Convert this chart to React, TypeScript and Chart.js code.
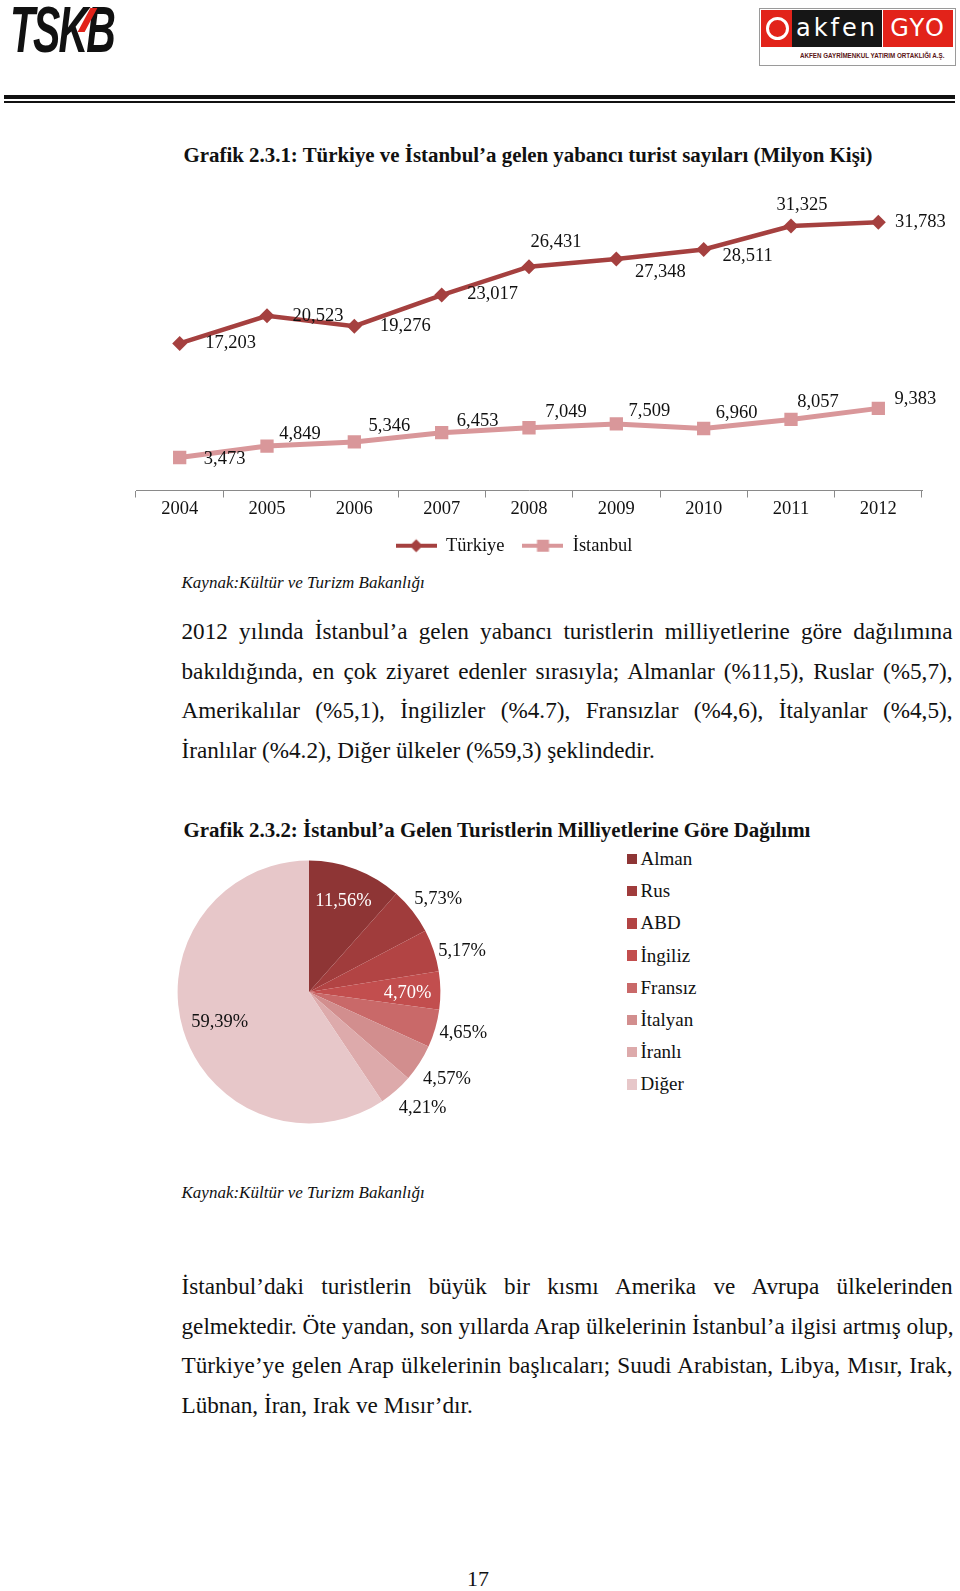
import React, { useEffect, useRef } from "react";
import { Chart, registerables } from "chart.js";

Chart.register(...registerables);

// ---------- DATA ----------
const years = ["2004", "2005", "2006", "2007", "2008", "2009", "2010", "2011", "2012"];
const turkiyeTourists = [17.203, 20.523, 19.276, 23.017, 26.431, 27.348, 28.511, 31.325, 31.783];
const istanbulTourists = [3.473, 4.849, 5.346, 6.453, 7.049, 7.509, 6.96, 8.057, 9.383];
const lineSeriesNames = ["Türkiye", "İstanbul"];
const lineAxisMin = -0.5;
const lineAxisMax = 35;

const nationalities = ["Alman", "Rus", "ABD", "İngiliz", "Fransız", "İtalyan", "İranlı", "Diğer"];
const nationalityShares = [11.56, 5.73, 5.17, 4.7, 4.65, 4.57, 4.21, 59.39];

// ---------- STYLES (kept apart from the data) ----------
const lineColors = ["#A5403F", "#D9979A"];
const pieColors = ["#8E3535", "#A03C3C", "#B24444", "#C24E4E", "#C96969", "#D28E8E", "#DDAAAB", "#E7C7C9"];
// label offsets from each point (px)
const turkiyeLabelShift: [number, number][] = [
  [51, 0], [51, 0], [51, 0], [51, -0.5], [27, -25], [44, 13], [44, 6.5], [11, -21], [42, 0],
];
const istanbulLabelShift: [number, number][] = [
  [45, 1.5], [33, -11.5], [35, -15.5], [36, -11.5], [37, -15.5], [33, -13], [33, -15.5], [27, -17.5], [37, -9.5],
];
// pie label placement: radius factor and angular nudge (degrees)
const pieLabelRadius = [0.74, 1.21, 1.205, 0.75, 1.215, 1.243, 1.235, 0.718];
const pieLabelTurn = [0, 2.4, 3.6, 1.3, -1.4, -0.4, -3, -2];
const pieLabelColor = ["#ffffff", "#111111", "#111111", "#ffffff", "#111111", "#111111", "#111111", "#111111"];

const SERIF = '"Liberation Serif", "Times New Roman", serif';

const fmt3 = (v: number) => v.toFixed(3).replace(".", ",");
const fmtPct = (v: number) => v.toFixed(2).replace(".", ",") + "%";

const paragraph1 = [
  "2012 yılında İstanbul’a gelen yabancı turistlerin milliyetlerine göre dağılımına",
  "bakıldığında, en çok ziyaret edenler sırasıyla; Almanlar (%11,5), Ruslar (%5,7),",
  "Amerikalılar (%5,1), İngilizler (%4.7), Fransızlar (%4,6), İtalyanlar (%4,5),",
  "İranlılar (%4.2), Diğer ülkeler (%59,3) şeklindedir.",
];
const paragraph2 = [
  "İstanbul’daki turistlerin büyük bir kısmı Amerika ve Avrupa ülkelerinden",
  "gelmektedir. Öte yandan, son yıllarda Arap ülkelerinin İstanbul’a ilgisi artmış olup,",
  "Türkiye’ye gelen Arap ülkelerinin başlıcaları; Suudi Arabistan, Libya, Mısır, Irak,",
  "Lübnan, İran, Irak ve Mısır’dır.",
];

function Paragraph({ lines, top, lineH }: { lines: string[]; top: number; lineH: number }) {
  return (
    <div style={{ position: "absolute", left: 181.5, top, width: 771 }}>
      {lines.map((t, i) => (
        <div
          key={i}
          style={{
            height: lineH,
            lineHeight: lineH + "px",
            fontSize: 23.2,
            whiteSpace: "nowrap",
            textAlign: "justify",
            textAlignLast: i === lines.length - 1 ? "left" : "justify",
            color: "#111",
          }}
        >
          {t}
        </div>
      ))}
    </div>
  );
}

export default function App() {
  const lineRef = useRef<HTMLCanvasElement>(null);
  const pieRef = useRef<HTMLCanvasElement>(null);

  useEffect(() => {
    Chart.defaults.font.family = SERIF;
    Chart.defaults.color = "#111";

    const makeIcon = (color: string, shape: "diamond" | "square") => {
      const c = document.createElement("canvas");
      c.width = 41;
      c.height = 18;
      const g = c.getContext("2d")!;
      g.strokeStyle = color;
      g.lineWidth = 4;
      g.beginPath();
      g.moveTo(0, 9);
      g.lineTo(41, 9);
      g.stroke();
      g.fillStyle = color;
      if (shape === "diamond") {
        g.beginPath();
        g.moveTo(20.5, 2.5);
        g.lineTo(27, 9);
        g.lineTo(20.5, 15.5);
        g.lineTo(14, 9);
        g.closePath();
        g.fill();
      } else {
        g.fillRect(14.5, 3, 12, 12);
      }
      return c;
    };
    const icons = [makeIcon(lineColors[0], "diamond"), makeIcon(lineColors[1], "square")];
    const shifts = [turkiyeLabelShift, istanbulLabelShift];

    const lineLabels = {
      id: "lineLabels",
      afterDatasetsDraw(chart: any) {
        const ctx = chart.ctx;
        ctx.save();
        ctx.font = `18.5px ${SERIF}`;
        ctx.fillStyle = "#111";
        ctx.textAlign = "center";
        ctx.textBaseline = "middle";
        chart.data.datasets.forEach((ds: any, di: number) => {
          const meta = chart.getDatasetMeta(di);
          meta.data.forEach((pt: any, i: number) => {
            const s = shifts[di][i];
            ctx.fillText(fmt3(ds.data[i]), pt.x + s[0], pt.y + s[1]);
          });
        });
        ctx.restore();
      },
    };

    const lineChart = new Chart(lineRef.current!, {
      type: "line",
      data: {
        labels: years,
        datasets: [
          {
            label: lineSeriesNames[0],
            data: turkiyeTourists,
            borderColor: lineColors[0],
            backgroundColor: lineColors[0],
            borderWidth: 4.5,
            pointStyle: "rectRot",
            pointRadius: 7.5,
            pointBorderWidth: 0,
            pointBackgroundColor: lineColors[0],
            tension: 0,
          },
          {
            label: lineSeriesNames[1],
            data: istanbulTourists,
            borderColor: lineColors[1],
            backgroundColor: lineColors[1],
            borderWidth: 5,
            pointStyle: "rect",
            pointRadius: 9.4,
            pointBorderWidth: 0,
            pointBackgroundColor: lineColors[1],
            tension: 0,
          },
        ],
      },
      options: {
        responsive: false,
        animation: false,
        events: [],
        layout: { padding: { left: 6, right: 38, top: 15.5, bottom: 0 } },
        scales: {
          x: {
            offset: true,
            grid: {
              offset: true,
              drawOnChartArea: false,
              drawTicks: true,
              tickLength: 7,
              color: "#8a8a8a",
            },
            border: { display: true, color: "#8a8a8a", width: 1 },
            ticks: { font: { size: 18.5, family: SERIF }, color: "#111", padding: 1, maxRotation: 0 },
            afterFit: (s: any) => {
              s.height = 28;
            },
          },
          y: {
            min: lineAxisMin,
            max: lineAxisMax,
            grid: { display: false },
            border: { display: false },
            ticks: { display: false },
            afterFit: (s: any) => {
              s.width = 30;
            },
          },
        },
        plugins: {
          tooltip: { enabled: false },
          legend: {
            position: "bottom",
            labels: {
              usePointStyle: true,
              pointStyleWidth: 41,
              padding: 18,
              font: { size: 18.5, family: SERIF },
              color: "#111",
              generateLabels: (chart: any) => {
                const items = Chart.defaults.plugins.legend.labels.generateLabels(chart);
                items.forEach((it: any) => {
                  it.pointStyle = icons[it.datasetIndex];
                });
                return items;
              },
            },
          },
        },
      },
      plugins: [lineLabels],
    } as any);

    const pieLabels = {
      id: "pieLabels",
      afterDatasetsDraw(chart: any) {
        const ctx = chart.ctx;
        ctx.save();
        ctx.font = `18.5px ${SERIF}`;
        ctx.textAlign = "center";
        ctx.textBaseline = "middle";
        const meta = chart.getDatasetMeta(0);
        meta.data.forEach((arc: any, i: number) => {
          const p = arc.getProps(["x", "y", "startAngle", "endAngle", "outerRadius"], true);
          const mid = (p.startAngle + p.endAngle) / 2 + (pieLabelTurn[i] * Math.PI) / 180;
          const r = p.outerRadius * pieLabelRadius[i];
          ctx.fillStyle = pieLabelColor[i];
          ctx.fillText(fmtPct(chart.data.datasets[0].data[i]), p.x + Math.cos(mid) * r, p.y + Math.sin(mid) * r);
        });
        ctx.restore();
      },
    };

    const pieChart = new Chart(pieRef.current!, {
      type: "pie",
      data: {
        labels: nationalities,
        datasets: [
          {
            data: nationalityShares,
            backgroundColor: pieColors,
            borderWidth: 0,
          },
        ],
      },
      options: {
        responsive: false,
        animation: false,
        events: [],
        layout: { padding: { left: 7.6, top: 10.6, right: 79.6, bottom: 16.6 } },
        plugins: { legend: { display: false }, tooltip: { enabled: false } },
      },
      plugins: [pieLabels],
    } as any);

    return () => {
      lineChart.destroy();
      pieChart.destroy();
    };
  }, []);

  const abs = (s: React.CSSProperties): React.CSSProperties => ({ position: "absolute", ...s });

  return (
    <div
      style={{
        position: "absolute",
        left: 0,
        top: 0,
        width: 960,
        height: 1591,
        overflow: "hidden",
        background: "#fff",
        fontFamily: SERIF,
        color: "#111",
      }}
    >
      {/* TSKB logo */}
      <div
        style={abs({
          left: 10,
          top: 0,
          fontFamily: '"Liberation Sans", Arial, sans-serif',
          fontWeight: 900,
          fontStyle: "italic",
          fontSize: 64,
          lineHeight: "60px",
          letterSpacing: -3,
          transform: "scaleX(0.64)",
          transformOrigin: "left top",
          color: "#111",
          whiteSpace: "nowrap",
        })}
      >
        TSKB
      </div>
      <div style={abs({ left: 84, top: 8, width: 7, height: 24, background: "#E2231A", transform: "skewX(-28deg)" })} />

      {/* Akfen GYO logo */}
      <div style={abs({ left: 759, top: 8, width: 195, height: 56, border: "1px solid #9a9a9a", background: "#fff" })} />
      <div style={abs({ left: 761, top: 10, width: 31, height: 37, background: "#E2231A" })} />
      <div
        style={abs({
          left: 766,
          top: 17,
          width: 17,
          height: 17,
          borderRadius: "50%",
          border: "3px solid #fff",
          background: "#E2231A",
        })}
      />
      <div
        style={abs({
          left: 792,
          top: 10,
          width: 90,
          height: 37,
          background: "#161616",
          color: "#fff",
          fontFamily: '"DejaVu Sans", sans-serif',
          fontSize: 24,
          lineHeight: "36px",
          letterSpacing: 3,
          textAlign: "center",
        })}
      >
        akfen
      </div>
      <div
        style={abs({
          left: 883,
          top: 10,
          width: 70,
          height: 37,
          background: "#E2231A",
          color: "#fff",
          fontFamily: '"DejaVu Sans", sans-serif',
          fontSize: 24,
          lineHeight: "36px",
          letterSpacing: 2,
          textAlign: "center",
        })}
      >
        GYO
      </div>
      <div
        style={abs({
          left: 800,
          top: 51,
          fontFamily: '"Liberation Sans", Arial, sans-serif',
          fontWeight: 700,
          fontSize: 8,
          lineHeight: "10px",
          color: "#5a1515",
          whiteSpace: "nowrap",
          transform: "scaleX(0.78)",
          transformOrigin: "left top",
        })}
      >
        AKFEN GAYRİMENKUL YATIRIM ORTAKLIĞI A.Ş.
      </div>

      {/* header rules */}
      <div style={abs({ left: 4, top: 95, width: 951, height: 3.5, background: "#111" })} />
      <div style={abs({ left: 4, top: 101, width: 951, height: 2, background: "#111" })} />

      {/* Chart 1 title */}
      <div style={abs({ left: 183.5, top: 143.3, fontSize: 20.9, lineHeight: "25px", fontWeight: 700, whiteSpace: "nowrap" })}>
        Grafik 2.3.1: Türkiye ve İstanbul’a gelen yabancı turist sayıları (Milyon Kişi)
      </div>

      <canvas ref={lineRef} width={860} height={385} style={abs({ left: 100, top: 180, width: 860, height: 385 })} />

      <div style={abs({ left: 181.5, top: 573.3, fontSize: 17, lineHeight: "20.4px", fontStyle: "italic", whiteSpace: "nowrap" })}>
        Kaynak:Kültür ve Turizm Bakanlığı
      </div>

      <Paragraph lines={paragraph1} top={612.3} lineH={39.55} />

      {/* Chart 2 title */}
      <div style={abs({ left: 183.5, top: 817.5, fontSize: 20.9, lineHeight: "25px", fontWeight: 700, whiteSpace: "nowrap" })}>
        Grafik 2.3.2: İstanbul’a Gelen Turistlerin Milliyetlerine Göre Dağılımı
      </div>

      <canvas ref={pieRef} width={350} height={290} style={abs({ left: 170, top: 850, width: 350, height: 290 })} />

      {/* pie legend */}
      {nationalities.map((n, i) => (
        <div
          key={n}
          style={abs({
            left: 626.5,
            top: 859 + i * 32.2 - 16,
            height: 32,
            display: "flex",
            alignItems: "center",
            whiteSpace: "nowrap",
          })}
        >
          <span style={{ display: "inline-block", width: 10.5, height: 10.5, background: pieColors[i], marginRight: 3.5 }} />
          <span style={{ fontSize: 19, lineHeight: "22px" }}>{n}</span>
        </div>
      ))}

      <div style={abs({ left: 181.5, top: 1183.2, fontSize: 17, lineHeight: "20.4px", fontStyle: "italic", whiteSpace: "nowrap" })}>
        Kaynak:Kültür ve Turizm Bakanlığı
      </div>

      <Paragraph lines={paragraph2} top={1267} lineH={39.6} />

      <div style={abs({ left: 467, top: 1565.8, fontSize: 22, lineHeight: "26.4px" })}>17</div>
    </div>
  );
}
